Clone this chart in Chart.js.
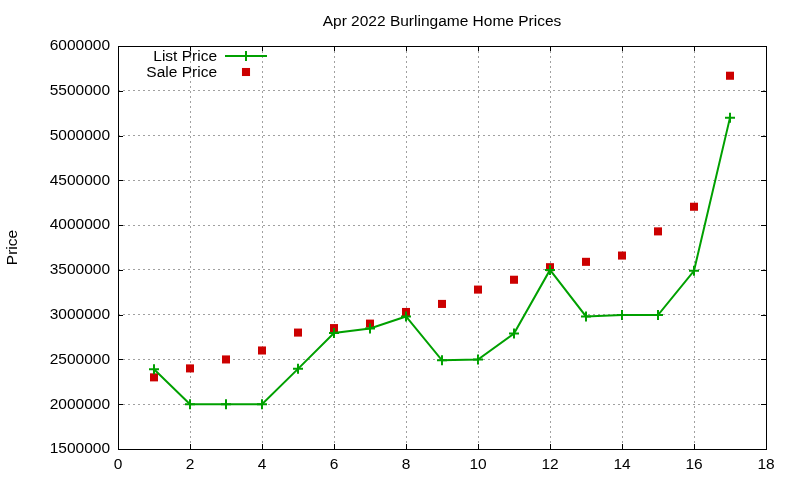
<!DOCTYPE html>
<html>
<head>
<meta charset="utf-8">
<script src="https://cdn.jsdelivr.net/npm/chart.js@4"></script>
<style>
html,body{margin:0;padding:0;background:#fff;}
#wrap{width:800px;height:480px;}
</style>
</head>
<body>
<div id="wrap"><canvas id="c" width="800" height="480"></canvas></div>
<script>
const titleText = "Apr 2022 Burlingame Home Prices";
const yTitle = "Price";
const xValues = [1,2,3,4,5,6,7,8,9,10,11,12,13,14,15,16,17];
const listPrice = [2390000,2000000,2000000,2000000,2395000,2795000,2845000,2980000,2490000,2500000,2790000,3500000,2980000,2995000,2995000,3490000,5200000];
const salePrice = [2300000,2400000,2500000,2600000,2800000,2850000,2900000,3030000,3120000,3280000,3390000,3530000,3590000,3660000,3930000,4205000,5668000];
const seriesNames = ["List Price","Sale Price"];
const xMin = 0, xMax = 18, xStep = 2;
const yMin = 1500000, yMax = 6000000, yStep = 500000;

const FONT = "'Liberation Sans', Arial, sans-serif";
const FSIZE = 15.5;
const green = "#00a000";
const red = "#cc0000";

const gnuplotDecor = {
  id: 'gnuplotDecor',
  beforeDatasetsDraw(chart) {
    const {ctx, chartArea: a, scales} = chart;
    ctx.save();
    ctx.strokeStyle = '#000';
    ctx.lineWidth = 1;
    ctx.strokeRect(Math.round(a.left)+0.5, Math.round(a.top)+0.5, Math.round(a.right-a.left), Math.round(a.bottom-a.top));
    const tl = 5;
    ctx.beginPath();
    scales.x.ticks.forEach(t => {
      const px = Math.round(scales.x.getPixelForValue(t.value)) + 0.5;
      ctx.moveTo(px, a.bottom); ctx.lineTo(px, a.bottom - tl);
      ctx.moveTo(px, a.top); ctx.lineTo(px, a.top + tl);
    });
    scales.y.ticks.forEach(t => {
      const py = Math.round(scales.y.getPixelForValue(t.value)) + 0.5;
      ctx.moveTo(a.left, py); ctx.lineTo(a.left + tl, py);
      ctx.moveTo(a.right, py); ctx.lineTo(a.right - tl, py);
    });
    ctx.stroke();
    ctx.restore();
  },
  afterDraw(chart) {
    const {ctx, chartArea: a} = chart;
    ctx.save();
    ctx.fillStyle = '#000';
    ctx.font = FSIZE + "px " + FONT;
    ctx.textAlign = 'center';
    ctx.textBaseline = 'middle';
    ctx.fillText(titleText, (a.left + a.right) / 2, 21.5);
    ctx.save();
    ctx.translate(13, (a.top + a.bottom) / 2);
    ctx.rotate(-Math.PI / 2);
    ctx.fillText(yTitle, 0, 0);
    ctx.restore();
    ctx.textAlign = 'right';
    const ds = chart.data.datasets;
    const rows = [55, 71];
    ds.forEach((d, i) => {
      const y = rows[i];
      ctx.fillStyle = '#000';
      ctx.fillText(d.label, 217, y + 1.5);
      if (d.showLine !== false) {
        ctx.strokeStyle = d.borderColor;
        ctx.lineWidth = d.borderWidth;
        ctx.beginPath();
        ctx.moveTo(225, y + 1); ctx.lineTo(267, y + 1);
        ctx.stroke();
      }
      ctx.fillStyle = d.pointBackgroundColor;
      ctx.strokeStyle = d.pointBorderColor;
      ctx.lineWidth = d.pointBorderWidth || 2;
      ctx.beginPath();
      if (d.pointStyle === 'rect') {
        const s = Math.SQRT1_2 * d.pointRadius;
        ctx.fillRect(246 - s, y + 1 - s, 2 * s, 2 * s);
      } else {
        const r = d.pointRadius;
        ctx.moveTo(246 - r, y + 1); ctx.lineTo(246 + r, y + 1);
        ctx.moveTo(246, y + 1 - r); ctx.lineTo(246, y + 1 + r);
        ctx.stroke();
      }
    });
    ctx.restore();
  }
};

const ctx = document.getElementById('c').getContext('2d');
new Chart(ctx, {
  type: 'scatter',
  data: {
    datasets: [
      {
        label: seriesNames[0],
        data: xValues.map((x, i) => ({x: x, y: listPrice[i]})),
        showLine: true,
        borderColor: green,
        backgroundColor: green,
        borderWidth: 2,
        pointStyle: 'cross',
        pointRadius: 5,
        pointBorderColor: green,
        pointBackgroundColor: green,
        pointBorderWidth: 2,
        tension: 0
      },
      {
        label: seriesNames[1],
        data: xValues.map((x, i) => ({x: x, y: salePrice[i]})),
        showLine: false,
        borderColor: red,
        backgroundColor: red,
        borderWidth: 0,
        pointStyle: 'rect',
        pointRadius: 5.7,
        pointBorderColor: red,
        pointBackgroundColor: red,
        pointBorderWidth: 0
      }
    ]
  },
  options: {
    responsive: false,
    animation: false,
    devicePixelRatio: 1,
    layout: {padding: {top: 46, right: 34, left: 0, bottom: 0}},
    plugins: {legend: {display: false}, title: {display: false}, tooltip: {enabled: false}},
    scales: {
      x: {
        type: 'linear', min: xMin, max: xMax,
        ticks: {stepSize: xStep, color: '#000', font: {family: FONT, size: FSIZE}, padding: 6, maxRotation: 0,
                callback: v => String(v)},
        grid: {color: '#a0a0a0', lineWidth: 1, drawTicks: false},
        border: {display: false, dash: [2, 3]},
        afterFit(s) { s.height = 31; }
      },
      y: {
        type: 'linear', min: yMin, max: yMax,
        ticks: {stepSize: yStep, color: '#000', font: {family: FONT, size: FSIZE}, padding: 8,
                callback: v => String(v)},
        grid: {color: '#a0a0a0', lineWidth: 1, drawTicks: false},
        border: {display: false, dash: [2, 3]},
        afterFit(s) { s.width = 118; }
      }
    }
  },
  plugins: [gnuplotDecor]
});
</script>
</body>
</html>
